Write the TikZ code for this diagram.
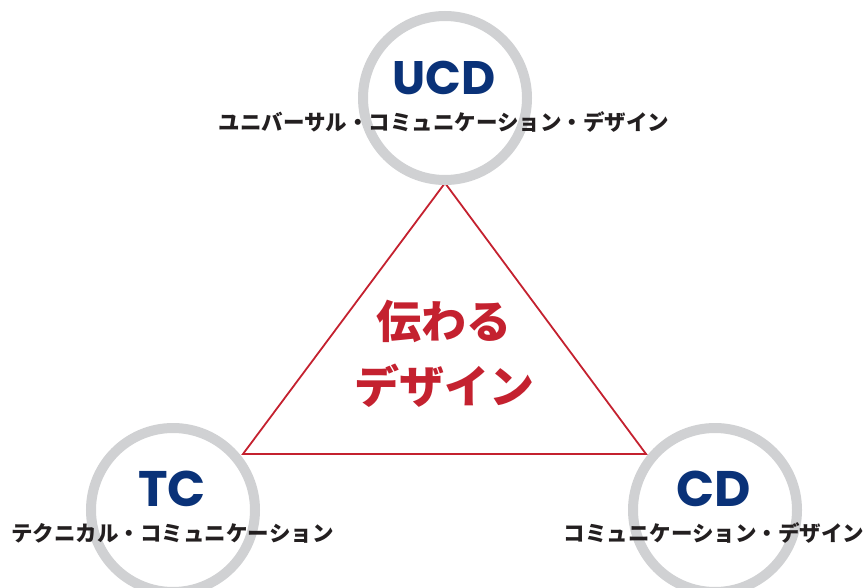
\documentclass[tikz,border=0pt]{standalone}
\usepackage{fontspec}
\newfontfamily\jpfont{Noto Sans CJK JP}
\newfontfamily\latfont{Poppins}
\usetikzlibrary{positioning,calc}
\definecolor{ringgray}{HTML}{D0D1D3}
\definecolor{navy}{HTML}{0A3278}
\definecolor{tred}{HTML}{C4212F}
\definecolor{ink}{HTML}{231F20}
\tikzset{
ring/.style = {draw=ringgray, line width=10pt, circle, minimum size=164pt, inner sep=0pt},
abbr/.style = {text=navy, font=\latfont\bfseries\fontsize{50}{50}\selectfont, inner sep=0pt},
sub/.style  = {text=ink, font=\jpfont\bfseries\fontsize{21.5}{24}\selectfont, inner sep=0pt},
title/.style = {text=tred, font=\jpfont\bfseries\fontsize{45}{65}\selectfont, align=center, inner sep=0pt},
vertex/.style = {coordinate}
}
\begin{document}
\begin{tikzpicture}[x=1pt, y=-1pt, node distance=44pt]
  \useasboundingbox (0,0) rectangle (864,588);
  % triangle between the three circles
  \coordinate [vertex] (apex)  at (445,183);
  \coordinate [vertex] (left)  at (243,454);
  \coordinate [vertex] (right) at (646,454);
  \draw [tred, line width=1.8pt, line join=miter] (apex) -- (left) -- (right) -- cycle;

  \node [ring] (ucdring) at (445,98)  {};
  \node [ring] (tcring)  at (173,510) {};
  \node [ring] (cdring)  at (715,510) {};

  \node [abbr, font=\latfont\bfseries\fontsize{47}{47}\selectfont] (ucd) at (444,78) {UCD};
  \node [sub, below of=ucd] (ucdsub) {ユニバーサル・コミュニケーション・デザイン};

  \node [abbr] (tc) at (172,489) {TC};
  \node [sub, below of=tc, xshift=0.5pt] (tcsub) {テクニカル・コミュニケーション};

  \node [abbr] (cd) at (714,489) {CD};
  \node [sub, below of=cd] (cdsub) {コミュニケーション・デザイン};

  \node [title] (center) at (444,354) {伝わる\\デザイン};
\end{tikzpicture}
\end{document}
